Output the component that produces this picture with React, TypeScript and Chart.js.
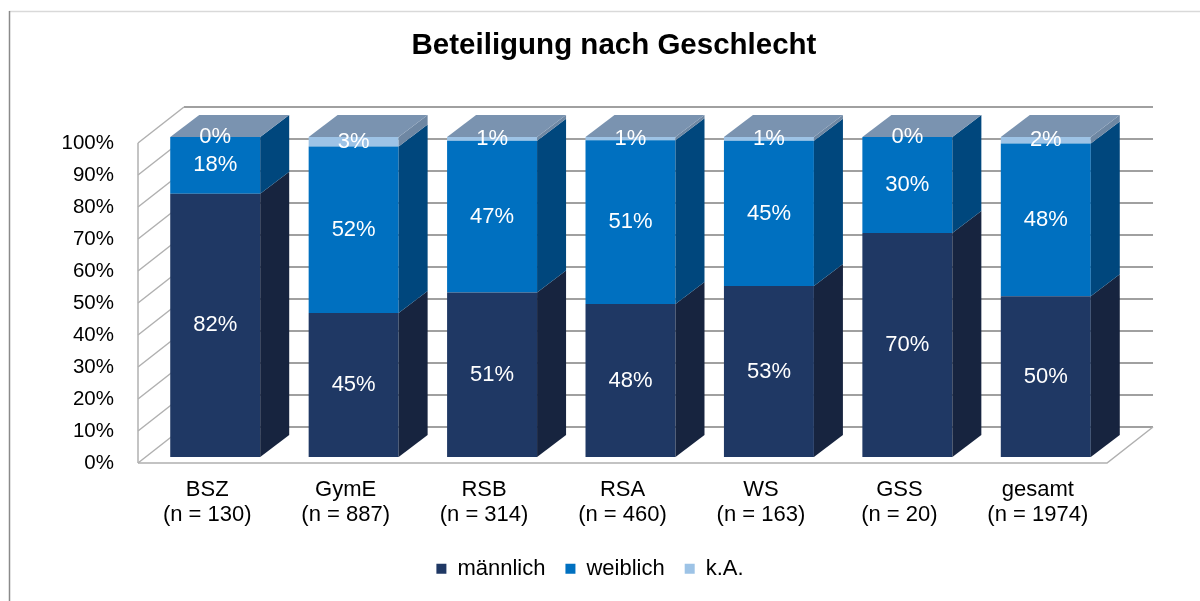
import React, { useEffect, useRef } from 'react';
import { Chart, registerables } from 'chart.js';

Chart.register(...registerables);

// ---- data ----
const categories: string[][] = [
  ['BSZ', '(n = 130)'],
  ['GymE', '(n = 887)'],
  ['RSB', '(n = 314)'],
  ['RSA', '(n = 460)'],
  ['WS', '(n = 163)'],
  ['GSS', '(n = 20)'],
  ['gesamt', '(n = 1974)'],
];
const maennlich = [82.3, 45.0, 51.4, 47.8, 53.4, 70.0, 50.2];
const weiblich = [17.7, 52.0, 47.4, 51.2, 45.4, 30.0, 47.8];
const keineAngabe = [0.0, 3.0, 1.2, 1.0, 1.2, 0.0, 2.0];
const seriesNames = ['männlich', 'weiblich', 'k.A.'];
const yTickValues = [0, 10, 20, 30, 40, 50, 60, 70, 80, 90, 100];

// ---- styling ----
const FONT = "'Liberation Sans', Arial, sans-serif";
const frontColors = ['#1F3864', '#0070C0', '#9DC3E6'];
const sideColors = ['#17243F', '#00477D', '#6E87A3'];
const TOP_COLOR = '#7A93B0';
const OFF = { x: 8, y: -6 }; // bar front offset from axis plane
const BAR_D = { x: 29, y: -22 }; // bar depth
const WALL_D = { x: 46, y: -36 }; // wall depth

const threeD = {
  id: 'threeD',
  afterLayout(chart: any) {
    const t = chart.titleBlock;
    if (t) {
      t.left = 28;
      t.right = 1200;
    }
    const l = chart.legend;
    if (l) {
      l.left = 0;
      l.right = 1180;
    }
  },
  beforeDraw(chart: any) {
    const { ctx } = chart;
    ctx.save();
    ctx.lineWidth = 1.5;
    ctx.strokeStyle = '#d9d9d9';
    ctx.beginPath();
    ctx.moveTo(9, 11.5);
    ctx.lineTo(1200, 11.5);
    ctx.stroke();
    ctx.strokeStyle = '#8a8a8a';
    ctx.beginPath();
    ctx.moveTo(9.5, 11);
    ctx.lineTo(9.5, 601);
    ctx.stroke();
    ctx.restore();
  },
  beforeDatasetsDraw(chart: any) {
    const { ctx, chartArea: a, scales } = chart;
    const y = scales.y;
    ctx.save();
    // back wall gridlines
    ctx.strokeStyle = '#a0a0a0';
    ctx.lineWidth = 2;
    yTickValues.forEach((v) => {
      const py = y.getPixelForValue(v) + WALL_D.y;
      ctx.beginPath();
      ctx.moveTo(a.left + WALL_D.x, py);
      ctx.lineTo(a.right + WALL_D.x, py);
      ctx.stroke();
    });
    // left wall gridlines
    ctx.strokeStyle = '#b0b0b0';
    ctx.lineWidth = 1.5;
    yTickValues.forEach((v) => {
      const py = y.getPixelForValue(v);
      ctx.beginPath();
      ctx.moveTo(a.left, py);
      ctx.lineTo(a.left + WALL_D.x, py + WALL_D.y);
      ctx.stroke();
    });
    // left wall front edge
    ctx.beginPath();
    ctx.moveTo(a.left, y.getPixelForValue(100));
    ctx.lineTo(a.left, y.getPixelForValue(0));
    ctx.stroke();
    // floor
    const fy = y.getPixelForValue(0);
    ctx.beginPath();
    ctx.moveTo(a.left, fy);
    ctx.lineTo(a.right, fy);
    ctx.lineTo(a.right + WALL_D.x, fy + WALL_D.y);
    ctx.stroke();
    ctx.restore();
    ctx.save();
    ctx.translate(OFF.x, OFF.y);
  },
  afterDatasetsDraw(chart: any) {
    const { ctx } = chart;
    ctx.restore();
    ctx.save();
    const n = chart.data.labels.length;
    const metas = chart.data.datasets.map((_: any, i: number) => chart.getDatasetMeta(i));
    // side faces
    metas.forEach((meta: any, i: number) => {
      meta.data.forEach((el: any) => {
        const p = el.getProps(['x', 'y', 'base', 'width'], true);
        if (Math.abs(p.base - p.y) < 0.5) return;
        const xr = p.x + p.width / 2 + OFF.x;
        const yt = p.y + OFF.y;
        const yb = p.base + OFF.y;
        ctx.fillStyle = sideColors[i];
        ctx.beginPath();
        ctx.moveTo(xr, yt);
        ctx.lineTo(xr + BAR_D.x, yt + BAR_D.y);
        ctx.lineTo(xr + BAR_D.x, yb + BAR_D.y);
        ctx.lineTo(xr, yb);
        ctx.closePath();
        ctx.fill();
      });
    });
    // top faces
    for (let j = 0; j < n; j++) {
      let top = Infinity;
      let x = 0;
      let w = 0;
      metas.forEach((meta: any) => {
        const p = meta.data[j].getProps(['x', 'y', 'width'], true);
        if (p.y < top) top = p.y;
        x = p.x;
        w = p.width;
      });
      const xl = x - w / 2 + OFF.x;
      const xr = x + w / 2 + OFF.x;
      const yt = top + OFF.y;
      ctx.fillStyle = TOP_COLOR;
      ctx.beginPath();
      ctx.moveTo(xl, yt);
      ctx.lineTo(xl + BAR_D.x, yt + BAR_D.y);
      ctx.lineTo(xr + BAR_D.x, yt + BAR_D.y);
      ctx.lineTo(xr, yt);
      ctx.closePath();
      ctx.fill();
    }
    // data labels
    ctx.fillStyle = '#ffffff';
    ctx.font = `22px ${FONT}`;
    ctx.textAlign = 'center';
    ctx.textBaseline = 'middle';
    metas.forEach((meta: any, i: number) => {
      const values = chart.data.datasets[i].data;
      meta.data.forEach((el: any, j: number) => {
        const p = el.getProps(['x', 'y', 'base'], true);
        const cx = p.x + OFF.x;
        const cy = (p.y + p.base) / 2 + OFF.y;
        ctx.fillText(`${Math.round(values[j])}%`, cx, cy);
      });
    });
    ctx.restore();
  },
};

export default function App() {
  const ref = useRef<HTMLCanvasElement | null>(null);
  useEffect(() => {
    if (!ref.current) return;
    Chart.defaults.font.family = FONT;
    const seriesData = [maennlich, weiblich, keineAngabe];
    const chart = new Chart(ref.current, {
      type: 'bar',
      data: {
        labels: categories,
        datasets: seriesData.map((d, i) => ({
          label: seriesNames[i],
          data: d,
          backgroundColor: frontColors[i],
          borderWidth: 0,
          barPercentage: 0.65,
          categoryPercentage: 1,
          clip: false as any,
        })),
      },
      options: {
        responsive: false,
        animation: false,
        events: [],
        layout: { padding: { top: 0, left: 0, right: 93, bottom: 11.3 } },
        plugins: {
          title: {
            display: true,
            text: 'Beteiligung nach Geschlecht',
            color: '#000000',
            font: { family: FONT, size: 29.5, weight: 'bold', lineHeight: 1.2 },
            padding: { top: 28.3, bottom: 79.3 },
          },
          legend: {
            display: true,
            position: 'bottom',
            labels: {
              boxWidth: 10,
              boxHeight: 10,
              padding: 20,
              color: '#000000',
              font: { family: FONT, size: 22 },
            },
          },
          tooltip: { enabled: false },
        },
        scales: {
          x: {
            stacked: true,
            grid: { display: false, drawTicks: false },
            border: { display: false },
            ticks: {
              color: '#000000',
              font: { family: FONT, size: 22, lineHeight: 1.136 },
              padding: 14.5,
              maxRotation: 0,
              autoSkip: false,
            },
            afterFit(scale: any) {
              scale.height = 74.7;
            },
          },
          y: {
            stacked: true,
            min: 0,
            max: 100,
            grid: { display: false, drawTicks: false },
            border: { display: false },
            ticks: {
              stepSize: 10,
              color: '#000000',
              font: { family: FONT, size: 20.5 },
              padding: 24,
              callback: (v: any) => `${v}%`,
            },
            afterFit(scale: any) {
              scale.width = 138;
            },
          },
        },
      },
      plugins: [threeD],
    });
    return () => chart.destroy();
  }, []);
  return (
    <div style={{ position: 'absolute', left: 0, top: 0, width: 1200, height: 601 }}>
      <canvas ref={ref} width={1200} height={601} style={{ display: 'block' }} />
    </div>
  );
}
